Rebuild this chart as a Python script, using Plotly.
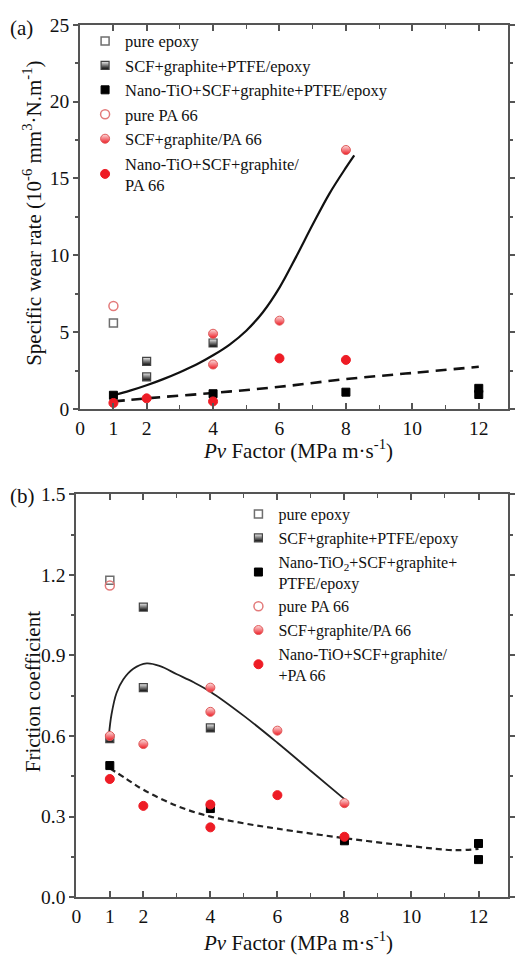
import plotly.graph_objects as go

# ---------------- data: panel (a) specific wear rate ----------------
a_pure_epoxy_x = [1]
a_pure_epoxy_y = [5.6]
a_scf_epoxy_x = [2, 2, 4]
a_scf_epoxy_y = [3.1, 2.1, 4.3]
a_nano_epoxy_x = [1, 4, 8, 12, 12]
a_nano_epoxy_y = [0.9, 1.0, 1.1, 1.35, 0.95]
a_pure_pa_x = [1]
a_pure_pa_y = [6.7]
a_scf_pa_x = [4, 4, 6, 8]
a_scf_pa_y = [4.9, 2.9, 5.75, 16.85]
a_nano_pa_x = [1, 2, 4, 6, 8]
a_nano_pa_y = [0.4, 0.7, 0.5, 3.3, 3.2]
a_fit_solid_x = [1, 1.5, 2, 2.5, 3, 3.5, 4, 4.5, 5, 5.5, 6, 6.5, 7, 7.5, 8, 8.25]
a_fit_solid_y = [0.9, 1.2, 1.55, 1.95, 2.4, 2.9, 3.5, 4.2, 5.1, 6.3, 7.9, 9.9, 12.0, 14.0, 15.7, 16.5]
a_fit_dash_x = [1, 2, 4, 6, 8, 10, 12]
a_fit_dash_y = [0.5, 0.7, 1.05, 1.45, 1.95, 2.35, 2.75]

# ---------------- data: panel (b) friction coefficient ----------------
b_pure_epoxy_x = [1]
b_pure_epoxy_y = [1.18]
b_scf_epoxy_x = [1, 2, 2, 4]
b_scf_epoxy_y = [0.59, 1.08, 0.78, 0.63]
b_nano_epoxy_x = [1, 4, 8, 12, 12]
b_nano_epoxy_y = [0.49, 0.33, 0.21, 0.20, 0.14]
b_pure_pa_x = [1]
b_pure_pa_y = [1.16]
b_scf_pa_x = [1, 2, 4, 4, 6, 8]
b_scf_pa_y = [0.60, 0.57, 0.78, 0.69, 0.62, 0.35]
b_nano_pa_x = [1, 2, 4, 4, 6, 8]
b_nano_pa_y = [0.44, 0.34, 0.345, 0.26, 0.38, 0.225]
b_fit_solid_x = [0.97, 1.05, 1.2, 1.4, 1.7, 2.1, 2.5, 3.0, 3.5, 4.0, 5.0, 6.0, 7.0, 8.0]
b_fit_solid_y = [0.60, 0.68, 0.76, 0.81, 0.85, 0.87, 0.86, 0.83, 0.80, 0.765, 0.675, 0.575, 0.47, 0.365]
b_fit_dash_x = [1, 1.5, 2, 3, 4, 5, 6, 8, 10, 11.3, 12]
b_fit_dash_y = [0.48, 0.44, 0.40, 0.34, 0.30, 0.275, 0.255, 0.22, 0.19, 0.175, 0.18]

x_tickvals = [0, 1, 2, 4, 6, 8, 10, 12]
x_ticktext = ["0", "1", "2", "4", "6", "8", "10", "12"]
a_yticks = [0, 5, 10, 15, 20, 25]
b_yticks = [0.0, 0.3, 0.6, 0.9, 1.2, 1.5]
b_yticktext = ["0.0", "0.3", "0.6", "0.9", "1.2", "1.5"]

a_names = ["pure epoxy", "SCF+graphite+PTFE/epoxy", "Nano-TiO+SCF+graphite+PTFE/epoxy",
           "pure PA 66", "SCF+graphite/PA 66", "Nano-TiO+SCF+graphite/<br>PA 66"]
b_names = ["pure epoxy", "SCF+graphite+PTFE/epoxy", "Nano-TiO<sub>2</sub>+SCF+graphite+<br>PTFE/epoxy",
           "pure PA 66", "SCF+graphite/PA 66", "Nano-TiO+SCF+graphite/<br>+PA 66"]

FONT = "Liberation Serif"
RED = "#ee1c25"
styles = [
    dict(symbol="square-open", size=8, color="#6e6e6e", line=dict(width=1.5, color="#6e6e6e")),
    dict(symbol="square", size=8, color="#f2f2f2", line=dict(width=1.2, color="#444"),
         gradient=dict(type="vertical", color="#000000")),
    dict(symbol="square", size=8, color="#000000", line=dict(width=1, color="#000")),
    dict(symbol="circle-open", size=9, color="#e37b7b", line=dict(width=1.5, color="#e37b7b")),
    dict(symbol="circle", size=9, color="#fbdcdc", line=dict(width=1, color="#e05a5a"),
         gradient=dict(type="vertical", color=RED)),
    dict(symbol="circle", size=9, color=RED, line=dict(width=1, color=RED)),
]

fig = go.Figure()

# fit curves (a)
fig.add_trace(go.Scatter(x=a_fit_solid_x, y=a_fit_solid_y, mode="lines",
                         line=dict(color="#111", width=2.2, shape="spline", smoothing=1.0),
                         showlegend=False, xaxis="x", yaxis="y"))
fig.add_trace(go.Scatter(x=a_fit_dash_x, y=a_fit_dash_y, mode="lines",
                         line=dict(color="#111", width=2.6, dash="11px,7px", shape="spline"),
                         showlegend=False, xaxis="x", yaxis="y"))
# fit curves (b)
fig.add_trace(go.Scatter(x=b_fit_solid_x, y=b_fit_solid_y, mode="lines",
                         line=dict(color="#222", width=1.8, shape="spline"),
                         showlegend=False, xaxis="x2", yaxis="y2"))
fig.add_trace(go.Scatter(x=b_fit_dash_x, y=b_fit_dash_y, mode="lines",
                         line=dict(color="#222", width=2.2, dash="6px,4px", shape="spline"),
                         showlegend=False, xaxis="x2", yaxis="y2"))

a_series = [(a_pure_epoxy_x, a_pure_epoxy_y), (a_scf_epoxy_x, a_scf_epoxy_y), (a_nano_epoxy_x, a_nano_epoxy_y),
            (a_pure_pa_x, a_pure_pa_y), (a_scf_pa_x, a_scf_pa_y), (a_nano_pa_x, a_nano_pa_y)]
b_series = [(b_pure_epoxy_x, b_pure_epoxy_y), (b_scf_epoxy_x, b_scf_epoxy_y), (b_nano_epoxy_x, b_nano_epoxy_y),
            (b_pure_pa_x, b_pure_pa_y), (b_scf_pa_x, b_scf_pa_y), (b_nano_pa_x, b_nano_pa_y)]

for (xs, ys), name, st in zip(a_series, a_names, styles):
    fig.add_trace(go.Scatter(x=xs, y=ys, mode="markers", name=name, marker=st,
                             xaxis="x", yaxis="y", legend="legend"))
for (xs, ys), name, st in zip(b_series, b_names, styles):
    fig.add_trace(go.Scatter(x=xs, y=ys, mode="markers", name=name, marker=st,
                             xaxis="x2", yaxis="y2", legend="legend2"))

H = 963.0
W = 515.0

def xaxis_cfg(dom_left):
    return dict(domain=[dom_left / W, 1.0], range=[0, 12.88], tickmode="array", tickvals=x_tickvals,
                ticktext=x_ticktext, ticks="inside", ticklen=6, tickwidth=1.5, tickcolor="#555",
                showline=True, linecolor="#555", linewidth=2, mirror="ticks", showgrid=False, zeroline=False,
                tickfont=dict(family=FONT, size=19.5, color="#111"),
                minor=dict(tickvals=[3, 5, 7, 9, 11], ticks="inside", ticklen=4, tickcolor="#555", tickwidth=1.2))

fig.update_layout(
    width=515, height=963,
    margin=dict(l=0, r=0, t=0, b=0),
    paper_bgcolor="white", plot_bgcolor="white",
    font=dict(family=FONT, size=18, color="#111"),
    xaxis=dict(xaxis_cfg(77), anchor="y"),
    yaxis=dict(domain=[1 - 408 / H, 1 - 15 / H], range=[0, 25], tickvals=a_yticks, ticks="outside", ticklen=5,
               tickcolor="#555", tickwidth=1.5, showline=True, linecolor="#555", linewidth=2, mirror="ticks",
               showgrid=False, zeroline=False, tickfont=dict(family=FONT, size=19.5, color="#111"),
               minor=dict(dtick=2.5, ticks="outside", ticklen=3, tickcolor="#555"), anchor="x"),
    xaxis2=dict(xaxis_cfg(73), anchor="y2"),
    yaxis2=dict(domain=[1 - 907 / H, 1 - 495 / H], range=[0, 1.5], tickvals=b_yticks, ticktext=b_yticktext,
                ticks="outside", ticklen=5, tickcolor="#555", tickwidth=1.5, showline=True, linecolor="#555",
                linewidth=2, mirror="ticks", showgrid=False, zeroline=False,
                tickfont=dict(family=FONT, size=19.5, color="#111"),
                minor=dict(dtick=0.15, ticks="outside", ticklen=3, tickcolor="#555"), anchor="x2"),
    legend=dict(x=82 / W, y=1 - 14 / H, xanchor="left", yanchor="top", bgcolor="rgba(0,0,0,0)",
                font=dict(family=FONT, size=16.5, color="#111"), tracegroupgap=0, itemwidth=30,
                itemsizing="trace"),
    legend2=dict(x=239 / W, y=1 - 498 / H, xanchor="left", yanchor="top", bgcolor="rgba(0,0,0,0)",
                 font=dict(family=FONT, size=16, color="#111"), tracegroupgap=0, itemwidth=30,
                 itemsizing="trace"),
    annotations=[
        dict(text="(a)", x=3 / W, y=1 - 18 / H, xref="paper", yref="paper", xanchor="left", yanchor="middle",
             showarrow=False, font=dict(family=FONT, size=21, color="#111")),
        dict(text="(b)", x=3 / W, y=1 - 497 / H, xref="paper", yref="paper", xanchor="left", yanchor="middle",
             showarrow=False, font=dict(family=FONT, size=21, color="#111")),
        dict(text="Specific wear rate (10<sup>-6</sup> mm<sup>3</sup>·N.m<sup>-1</sup>)", textangle=-90,
             x=28 / W, y=1 - 208 / H, xref="paper", yref="paper", xanchor="center", yanchor="middle",
             showarrow=False, font=dict(family=FONT, size=21, color="#111")),
        dict(text="<i>Pv</i> Factor (MPa m·s<sup>-1</sup>)", x=300 / W, y=1 - 449 / H, xref="paper", yref="paper",
             xanchor="center", yanchor="middle", showarrow=False, font=dict(family=FONT, size=21, color="#111")),
        dict(text="Friction coefficient", textangle=-90, x=28 / W, y=1 - 697 / H, xref="paper", yref="paper",
             xanchor="center", yanchor="middle", showarrow=False, font=dict(family=FONT, size=21, color="#111")),
        dict(text="<i>Pv</i> Factor (MPa m·s<sup>-1</sup>)", x=300 / W, y=1 - 952 / H, xref="paper", yref="paper",
             xanchor="center", yanchor="middle", showarrow=False, font=dict(family=FONT, size=21, color="#111")),
    ],
)

fig.write_html("out.html")
